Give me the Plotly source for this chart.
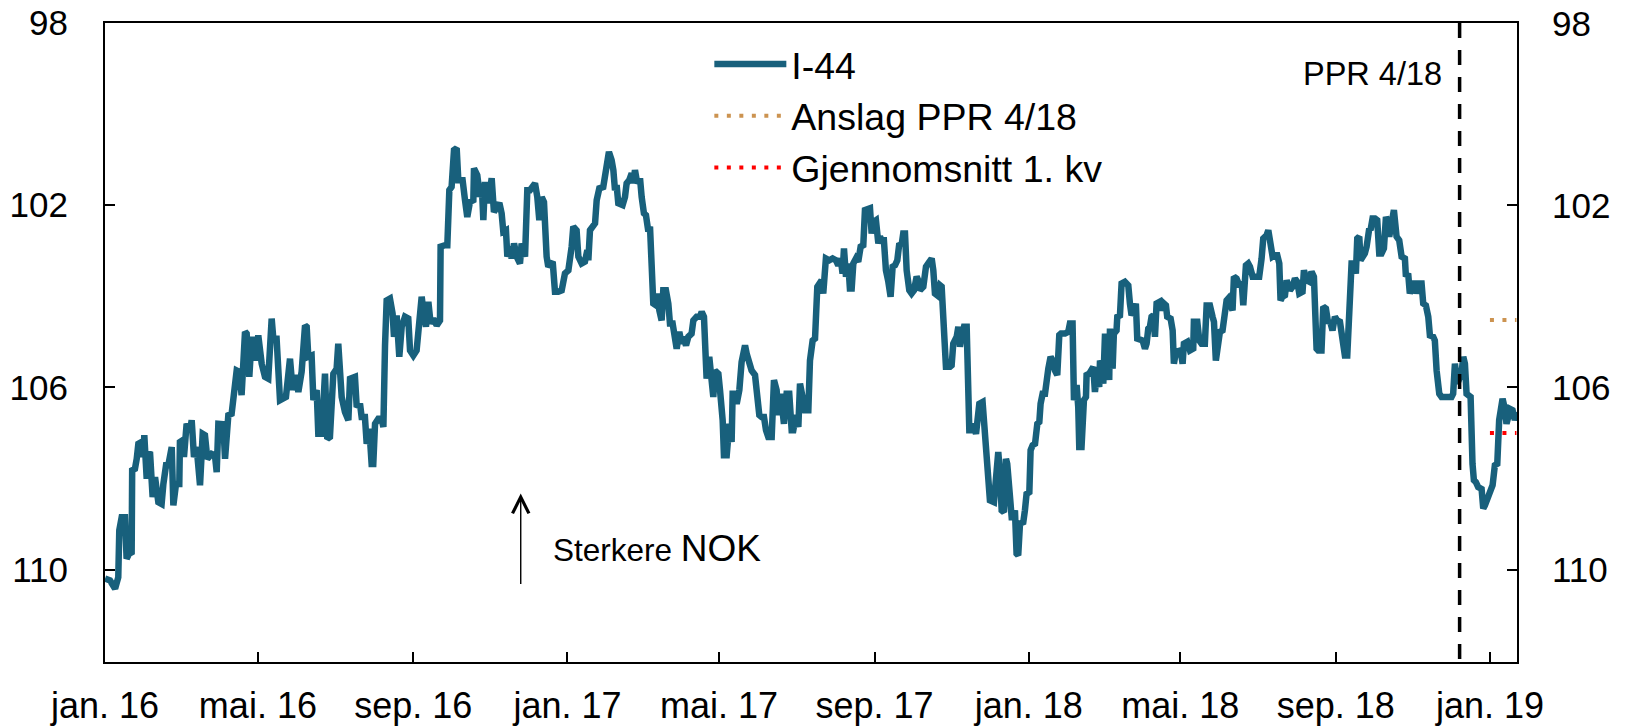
import pandas as pd
import plotly.graph_objects as go

# I-44; day = days since 1 Jan 2016
days = [
    0, 4, 8, 10.5, 11.3, 13.2, 15.8, 17.1, 19.2, 21.1, 21.5, 23.7, 25.1, 26.4, 29.0, 30.3, 31.1, 33.0,
    34.3, 35.6, 37.7, 39.6, 42.2, 44.8, 46.2, 48.3, 50.1, 52.8, 54.1, 56.2, 58.8, 59.3, 61.5, 62.5,
    64.6, 67.3, 68.6, 70.4, 72.5, 75.2, 77.3, 79.1, 81.0, 84.4, 87.0, 88.4, 89.7, 93.6, 95.0, 97.6,
    100.2, 101.5, 104.2, 106.3, 108.1, 110.8, 112.1, 114.2, 116.1, 118.7, 121.3, 124.0, 126.6, 129.2,
    131.9, 133.2, 135.8, 138.5, 140.6, 143.2, 146.4, 148.5, 151.1, 153.0, 155.6, 158.3, 159.6, 160.9,
    163.5, 164.9, 167.5, 168.8, 171.5, 172.8, 174.1, 175.9, 178.0, 180.7, 183.3, 184.6,
    187.3, 189.9, 192.6, 193.9, 197.8, 199.2, 201.8, 203.1, 205.7, 207.1, 209.2, 211.0, 212.3, 213.7,
    216.3, 218.9, 220.3, 221.6, 222.9, 225.5, 227.6, 228.7, 230.8, 232.9, 234.8, 237.4, 240.0, 241.4,
    244.0, 246.6, 248.0, 250.6, 251.9, 254.0, 255.9, 257.7, 259.8, 262.5, 265.1, 265.6, 269.1, 270.9,
    272.5, 274.3, 276.2, 278.3, 279.6, 283.0, 284.9, 286.7, 288.8, 291.5, 292.0, 294.6, 296.7, 298.1,
    299.4, 300.7, 303.3, 306.0, 307.8, 310.0, 312.1, 313.9, 315.2, 317.3, 318.4, 320.5, 321.8, 323.7,
    325.8, 328.4, 329.7, 332.4, 334.2, 336.3, 337.6, 340.3, 342.1, 343.7, 345.6, 347.4, 349.5, 350.8,
    354.3, 356.1, 358.7, 361.4, 364.0, 366.7, 369.3, 370.6, 373.2, 374.6,
    377.2, 379.8, 381.7, 382.5, 383.8, 385.9, 387.8, 389.1, 391.2, 394.3, 395.7, 397.0, 398.8, 400.9,
    402.3, 403.6, 404.9, 406.2, 409.6, 411.5, 412.8, 414.9, 416.8, 418.1, 419.4, 421.2, 423.4, 424.7,
    426.5, 428.1, 430.0, 431.3, 433.9, 436.0, 437.1, 438.7, 440.5, 441.8, 443.9, 445.8, 447.1, 449.2,
    451.1, 452.4, 454.5, 456.3, 457.7, 459.8, 461.6, 464.2, 465.6, 468.2, 470.8, 472.2, 474.0, 476.1,
    478.2, 480.1, 481.4, 482.7, 485.4, 486.7, 488.8, 489.8, 492.0, 494.1, 495.9, 496.7, 498.5, 499.9,
    502.0, 503.8, 506.5, 507.8, 509.9, 511.7, 514.4, 515.7, 517.8, 519.6, 521.5, 523.1, 524.9, 527.6,
    529.4, 531.5, 532.8, 534.7, 536.3, 537.3, 539.4, 541.5, 543.4, 544.7, 546.8, 548.7, 550.0, 552.1,
    554.0, 556.6, 557.9, 560.0, 561.9, 563.7, 565.3,
    567.1, 568.4, 570.5, 573.2, 575.8, 578.5, 580.3, 582.2, 583.7, 584.8, 586.4, 588.2, 589.5, 590.9,
    592.2, 594.3, 596.1, 598.0, 600.1, 601.4, 604.0, 605.4, 606.7, 608.0, 610.1, 612.0, 613.3, 614.6,
    616.4, 618.0, 619.9, 621.7, 623.3, 625.2, 627.0, 628.6, 630.4, 631.7, 633.1, 634.4, 636.5, 638.3,
    640.2, 642.3, 643.6, 644.9, 647.6, 649.7, 651.5, 654.2, 655.5, 656.8, 658.7, 660.8, 662.1, 663.9,
    665.5, 668.7, 670.0, 671.3, 674.0, 675.3, 676.6, 677.9, 679.8, 681.9, 684.0, 685.8, 687.1, 689.3,
    691.9, 694.5, 696.4, 697.7, 699.0, 700.3, 703.5, 705.6, 706.9, 708.2, 709.6, 711.4, 713.0, 714.0,
    716.2, 717.5, 718.8, 720.1, 721.4, 722.7, 724.1, 726.7, 728.0, 729.3, 731.5, 732.5, 734.1, 736.0,
    737.8, 739.4, 740.4, 742.0, 743.9, 745.2, 746.5, 748.3, 749.9, 751.8, 753.6, 755.2,
    756.5, 759.7, 762.3, 763.6, 765.7, 766.8, 768.9, 770.2, 771.0, 772.8, 774.7, 776.3, 776.8, 778.9,
    780.8, 782.1, 783.4, 784.7, 786.8, 787.4, 788.7, 790.0, 791.3, 792.6, 794.7, 795.3, 797.4, 798.4,
    800.5, 801.1, 803.2, 804.5, 807.1, 809.8, 811.1, 812.4, 814.3, 815.8, 816.9, 819.0, 821.1, 823.0,
    824.3, 825.6, 826.9, 828.2, 829.6, 830.9, 832.2, 834.8, 836.2, 838.0, 839.6, 840.6, 843.3, 844.9,
    845.9, 847.5, 849.3, 851.2, 852.8, 853.8, 856.5, 858.6, 861.2, 861.7, 864.4, 866.0, 867.8, 870.4,
    871.8, 874.4, 876.5, 877.6, 879.1, 880.2, 882.3, 884.4, 885.5, 887.6, 888.9, 890.8, 892.3, 893.4,
    895.5, 898.1, 899.5, 900.8, 902.1, 902.9, 904.7, 906.1, 908.2, 911.3, 913.4, 915.3, 916.6, 919.2,
    920.6, 921.9, 924.0, 925.8, 927.7, 929.3, 930.3, 931.9, 933.8, 935.1, 936.4, 937.7, 939.8, 941.7,
    943.5, 945.1,
    947.7, 948.8, 950.9, 953.0, 954.8, 956.7, 958.8, 960.1, 962.7, 964.1, 966.2, 968.0, 969.3, 971.4,
    973.3, 975.1, 977.3, 979.4, 981.2, 983.1, 984.6, 986.5, 988.3, 989.9, 991.0, 992.6, 993.6, 995.7,
    997.0, 998.4, 1000.5, 1001.5, 1003.1, 1005.0, 1006.8, 1008.4, 1010.2, 1012.1, 1013.7, 1014.7,
    1016.3, 1018.1, 1020.0, 1022.1, 1024.2, 1026.1, 1028.7, 1029.5, 1031.3, 1032.6, 1034.8, 1036.6,
    1037.9, 1040.0, 1041.9, 1043.2, 1045.3, 1047.2, 1048.5, 1051.1, 1052.4, 1053.8, 1055.9, 1057.7,
    1061.1, 1063.8, 1065.6, 1066.9, 1068.3, 1070.1, 1072.2, 1073.5, 1074.9, 1076.2, 1077.5, 1078.8,
    1080.7, 1082.2, 1083.3, 1084.9, 1086.7, 1089.4, 1090.7, 1092.0, 1093.8, 1096.0, 1098.1, 1099.9,
    1101.8, 1103.3, 1104.4, 1106.0, 1107.8, 1109.1, 1110.5, 1111.8, 1113.9, 1115.7, 1117.2,
]
i44 = [
    110.20, 110.24, 110.42, 110.17, 109.14, 108.85, 108.85, 109.76, 109.65, 109.62, 107.82, 107.79, 107.57, 107.24, 107.20, 107.53, 107.05, 108.01,
    107.46, 107.42, 108.41, 107.97, 108.52, 108.56, 108.12, 107.71, 107.71, 107.31, 108.59, 108.12, 108.12, 107.20, 107.16, 107.53,
    106.80, 106.94, 106.72, 107.53, 107.31, 108.15, 107.02, 107.05, 107.57, 107.46, 107.49, 107.86, 106.80, 106.81, 107.57, 106.61,
    106.58, 106.14, 105.63, 105.66, 106.17, 104.78, 104.82, 105.77, 104.89, 105.41, 104.86, 105.48, 105.77, 105.81,
    104.49, 104.93, 104.93, 106.28, 106.25, 106.21, 105.37, 106.06, 105.73, 106.10, 105.66, 104.64, 104.67, 105.33,
    105.30, 106.28, 106.06, 107.02, 107.02, 106.21, 105.70, 107.13, 107.09, 105.70, 105.59, 105.04,
    106.21, 106.54, 106.72, 105.81, 105.77, 106.43, 106.36, 106.65, 106.65, 107.24, 106.91, 107.68, 107.68, 106.80,
    106.69, 106.69, 106.87, 105.08, 104.09, 104.05, 104.38, 104.89, 104.42, 105.33, 104.67, 104.45, 104.49, 105.19,
    105.30, 105.19, 104.60, 104.01, 104.31, 104.67, 104.12, 104.60, 104.49, 104.64, 104.53, 102.91, 102.88, 102.88,
    101.67, 101.60, 100.79, 100.75, 101.45, 101.45, 101.89, 102.26, 101.93, 101.89, 101.19, 101.34, 101.82, 101.52,
    102.33, 101.49, 101.96, 101.41, 102.15, 102.00, 101.95, 102.18, 102.58, 102.55, 103.13, 102.91, 103.17, 102.84,
    103.13, 103.28, 102.84, 103.13, 101.67, 101.67, 101.63, 101.52, 101.82, 102.33, 101.82, 101.93, 103.13, 103.35,
    103.24, 103.90, 103.90, 103.87, 103.50, 103.43, 102.91, 102.47, 102.55, 103.13,
    103.28, 103.24, 102.99, 103.21, 102.55, 102.44, 102.40, 101.89, 101.63, 101.60, 101.34, 101.05, 100.83, 101.01,
    101.23, 101.67, 101.56, 101.96, 102.00, 101.82, 101.52, 101.45, 101.30, 101.52, 101.23, 101.52, 101.41, 101.82,
    102.18, 102.22, 102.58, 102.47, 104.16, 104.20, 103.94, 104.31, 104.53, 103.87, 103.87, 104.16, 104.60, 104.60,
    104.89, 105.15, 104.78, 105.04, 104.89, 105.08, 104.89, 104.82, 104.53, 104.45, 104.45, 104.34, 104.45, 105.81,
    105.33, 105.77, 106.21, 105.63, 105.70, 106.06, 106.72, 107.49, 107.49, 106.80, 107.20, 106.14, 106.14, 106.36,
    106.06, 105.44, 105.08, 105.26, 105.48, 105.63, 105.73, 105.99, 106.61, 106.65, 106.65, 106.94, 107.09, 107.09,
    105.84, 106.06, 106.61, 106.14, 106.43, 106.80, 106.14, 106.14, 106.94, 106.94, 106.61, 106.87, 105.92, 106.21,
    106.50, 106.50, 105.41, 104.97, 104.93, 103.79, 103.68,
    103.65, 103.94, 103.17, 103.21, 103.17, 103.21, 103.32, 103.17, 103.50, 102.95, 103.57, 103.28, 103.83, 103.83,
    103.28, 103.17, 103.24, 102.91, 102.88, 102.11, 102.07, 102.07, 102.62, 102.37, 102.33, 102.84, 102.69, 102.77,
    102.77, 103.43, 103.68, 104.01, 103.35, 103.32, 103.21, 102.84, 102.88, 102.62, 102.62, 103.43, 103.87, 103.94,
    103.87, 103.57, 103.65, 103.87, 103.79, 103.35, 103.28, 103.17, 103.43, 103.94, 103.98, 103.76, 103.79, 104.89,
    105.55, 105.55, 105.52, 105.04, 104.89, 104.67, 105.11, 104.89, 104.67, 104.67, 106.94, 106.94, 106.80, 107.02,
    106.36, 106.32, 107.02, 107.38, 108.04, 108.48, 108.52, 107.46, 107.42, 107.86, 108.70, 108.74, 107.57, 107.68,
    108.41, 108.85, 108.85, 108.70, 109.65, 109.69, 108.99, 108.96, 108.70, 108.34, 108.30, 107.38, 107.27, 107.24,
    106.80, 106.76, 106.36, 106.14, 106.14, 105.77, 105.59, 105.33, 105.41, 105.63, 105.73, 104.85,
    104.82, 104.82, 104.78, 104.60, 104.60, 106.28, 105.95, 106.43, 107.31, 107.31, 106.28, 106.21, 105.73, 105.70,
    105.59, 105.55, 106.10, 105.77, 105.99, 105.41, 105.52, 105.92, 104.89, 104.89, 105.84, 104.71, 105.59, 104.82,
    104.75, 104.45, 104.42, 103.72, 103.68, 103.76, 104.16, 104.42, 104.31, 104.16, 104.93, 104.97, 104.97, 105.15,
    105.04, 104.71, 104.67, 104.45, 104.42, 104.89, 104.16, 104.12, 104.31, 104.16, 104.20, 104.45, 104.49, 104.75,
    105.48, 105.22, 105.22, 105.19, 105.48, 105.04, 105.00, 105.19, 105.15, 104.56, 104.56, 104.97, 105.04, 105.04,
    104.20, 104.20, 104.45, 104.56, 105.41, 105.11, 104.78, 104.75, 104.42, 104.09, 104.05, 104.27, 104.31, 103.57,
    103.61, 103.79, 103.68, 104.20, 103.83, 103.32, 103.28, 103.35, 103.57, 103.57, 103.57, 103.17, 102.73, 102.66,
    102.55, 102.77, 103.13, 103.10, 103.10, 103.28, 104.09, 104.01, 103.98, 103.65, 103.87, 103.87, 103.79, 103.61,
    103.68, 103.94,
    103.90, 103.43, 103.65, 103.68, 103.46, 103.57, 105.15, 105.19, 105.19, 104.23, 104.27, 104.60, 104.53, 104.75,
    104.45, 104.53, 104.56, 104.97, 105.30, 105.30, 104.31, 103.28, 103.28, 103.50, 102.73, 102.69, 103.21, 103.13,
    103.06, 102.91, 102.51, 102.55, 102.29, 102.29, 102.33, 103.06, 103.06, 102.95, 102.26, 102.33,
    102.69, 102.47, 102.11, 102.69, 102.77, 103.13, 103.17, 103.57, 103.50, 103.94, 103.72, 103.72,
    103.94, 103.72, 103.72, 104.16, 104.20, 104.45, 104.86, 104.89, 104.97, 105.63, 106.14, 106.21,
    106.21, 106.21, 106.21, 106.14, 105.48, 105.92, 105.70, 105.70, 105.33, 105.48, 106.14, 106.17,
    106.21, 107.68, 108.04, 108.08, 108.19, 108.23, 108.66, 108.59, 108.45, 108.37, 108.15, 107.71,
    107.68, 106.72, 106.36, 106.25, 106.47, 106.80, 106.65, 106.47, 106.50, 106.72, 106.54,
]

# forecast / quarter average, Jan 2019
fc_dates = ["2019-01-01", "2019-01-22"]
anslag_ppr = [104.52, 104.52]
snitt_q1 = [107.0, 107.0]

ppr_date = "2018-12-08"
tick_dates = ["2016-01-01", "2016-05-01", "2016-09-01", "2017-01-01", "2017-05-01", "2017-09-01",
              "2018-01-01", "2018-05-01", "2018-09-01", "2019-01-01"]
tick_text = ["jan. 16", "mai. 16", "sep. 16", "jan. 17", "mai. 17", "sep. 17",
             "jan. 18", "mai. 18", "sep. 18", "jan. 19"]
y_ticks = [98, 102, 106, 110]

dates = pd.Timestamp("2016-01-01") + pd.to_timedelta(days, unit="D")

FONT = "Arial, Liberation Sans, sans-serif"

fig = go.Figure()
fig.add_trace(go.Scatter(x=dates, y=i44, name="I-44", mode="lines",
                         line=dict(color="#18607c", width=6.5)))
fig.add_trace(go.Scatter(x=fc_dates, y=anslag_ppr, name="Anslag PPR 4/18", mode="lines",
                         line=dict(color="#cc9350", width=4, dash="4px,8.5px")))
fig.add_trace(go.Scatter(x=fc_dates, y=snitt_q1, name="Gjennomsnitt 1. kv", mode="lines",
                         line=dict(color="#ff0000", width=4, dash="4px,8.5px")))

# PPR 4/18 marker line
fig.add_shape(type="line", x0=ppr_date, x1=ppr_date, y0=98, y1=112.03, xref="x", yref="y",
              line=dict(color="black", width=3.5, dash="15px,12px"))
fig.add_annotation(x=ppr_date, y=99.12, text="PPR 4/18", showarrow=False, xanchor="right",
                   xshift=-16, font=dict(size=32.5, color="black", family=FONT))

# arrow + label
fig.add_annotation(x="2016-11-25", y=108.33, ax="2016-11-25", ay=110.35, axref="x", ayref="y",
                   text="", showarrow=True, arrowhead=5, arrowsize=2.3, arrowwidth=1.4,
                   arrowcolor="black")
fig.add_annotation(x="2016-12-19", y=109.54, text="Sterkere <span style='font-size:37px'>NOK</span>",
                   showarrow=False, xanchor="left", font=dict(size=31.5, color="black", family=FONT))

# right-hand tick labels (same scale as the left axis)
for v in y_ticks:
    fig.add_annotation(x=1, xref="paper", y=v, yref="y", text=str(v), showarrow=False,
                       xanchor="left", xshift=33, font=dict(size=35, color="black", family=FONT))

axis_common = dict(showline=True, linecolor="black", linewidth=2, ticks="inside", ticklen=10,
                   tickwidth=2, tickcolor="black", showgrid=False, zeroline=False, automargin=False,
                   ticklabeloverflow="allow")

# the page body adds an 8px offset, margins are shifted to compensate
fig.update_layout(
    width=1625, height=728,
    margin=dict(l=97, r=116, t=15, b=74),
    paper_bgcolor="white", plot_bgcolor="white",
    font=dict(family=FONT, color="black"),
    xaxis=dict(type="date", range=["2016-01-01", "2019-01-22 10:00"], tickvals=tick_dates,
               ticktext=tick_text, mirror=True, tickfont=dict(size=36), ticklabelstandoff=11,
               **axis_common),
    yaxis=dict(range=[112.03, 98], tickvals=y_ticks, tickfont=dict(size=35), mirror="ticks",
               ticklabelstandoff=28, **axis_common),
    legend=dict(x=0.428, y=0.984, xanchor="left", yanchor="top", font=dict(size=37.5),
                bgcolor="rgba(0,0,0,0)", itemwidth=72, tracegroupgap=0),
    showlegend=True,
)

fig.write_html("out.html")
